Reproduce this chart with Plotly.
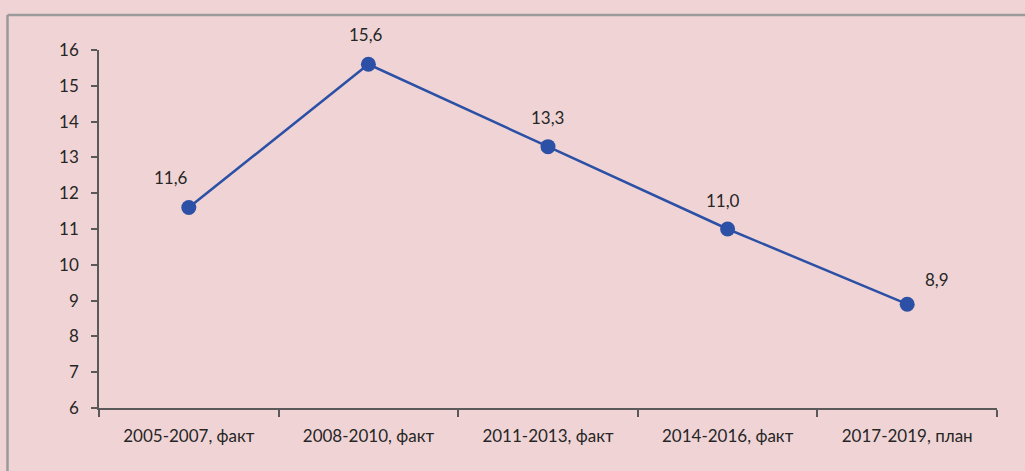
import plotly.graph_objects as go

categories = ["2005-2007, факт", "2008-2010, факт", "2011-2013, факт", "2014-2016, факт", "2017-2019, план"]
values = [11.6, 15.6, 13.3, 11.0, 8.9]
value_labels = ["11,6", "15,6", "13,3", "11,0", "8,9"]
y_ticks = [6, 7, 8, 9, 10, 11, 12, 13, 14, 15, 16]

label_dx = [-18, -2, -1, -5, 30]
label_dy = [30, 30, 29, 29, 25]

bg = "#f0d4d5"
line_color = "#2b50a5"
text_color = "#262626"
font_family = "Lato, 'Noto Sans', sans-serif"

W, H = 1025, 471
ML, MR, MT, MB = 99, 28, 50, 63
pw, ph = W - ML - MR, H - MT - MB

fig = go.Figure()
fig.add_trace(go.Scatter(
    x=categories, y=values, mode="lines+markers",
    line=dict(color=line_color, width=2.5),
    marker=dict(color=line_color, size=15),
    hoverinfo="skip", showlegend=False,
))

for c, v, t, dx, dy in zip(categories, values, value_labels, label_dx, label_dy):
    fig.add_annotation(x=c, y=v, text=t, showarrow=False, xshift=dx, yshift=dy,
                       font=dict(size=17, color=text_color, family=font_family))

# outer frame (top and left edges visible)
fx = (7.5 - ML) / pw
fy = 1 + (MT - 15) / ph
fig.add_shape(type="line", xref="paper", yref="paper", x0=fx, x1=1.2, y0=fy, y1=fy,
              line=dict(color="#9a9a9a", width=2.5))
fig.add_shape(type="line", xref="paper", yref="paper", x0=fx, x1=fx, y0=fy, y1=-0.3,
              line=dict(color="#9a9a9a", width=2.5))

fig.update_layout(
    width=W, height=H,
    margin=dict(l=ML, r=MR, t=MT, b=MB),
    paper_bgcolor=bg, plot_bgcolor=bg,
    font=dict(family=font_family, size=17, color=text_color),
)
fig.update_xaxes(
    type="category", range=[-0.5, 4.5], showgrid=False, showline=True,
    linecolor="#595959", linewidth=1.5, ticks="outside", tickson="boundaries",
    ticklen=7, tickcolor="#595959", tickwidth=1.5, zeroline=False,
    ticklabelstandoff=12,
    tickfont=dict(size=17, color=text_color),
)
fig.update_yaxes(
    range=[6, 16], tickvals=y_ticks, showgrid=False, showline=True,
    linecolor="#595959", linewidth=1.5, ticks="outside", ticklen=6,
    tickcolor="#595959", tickwidth=1.5, zeroline=False,
    ticklabelstandoff=9,
    tickfont=dict(size=17, color=text_color),
)

fig.write_html("out.html", config={"displayModeBar": False},
               post_script="document.body.style.margin='0';document.body.style.background='%s';" % bg)
